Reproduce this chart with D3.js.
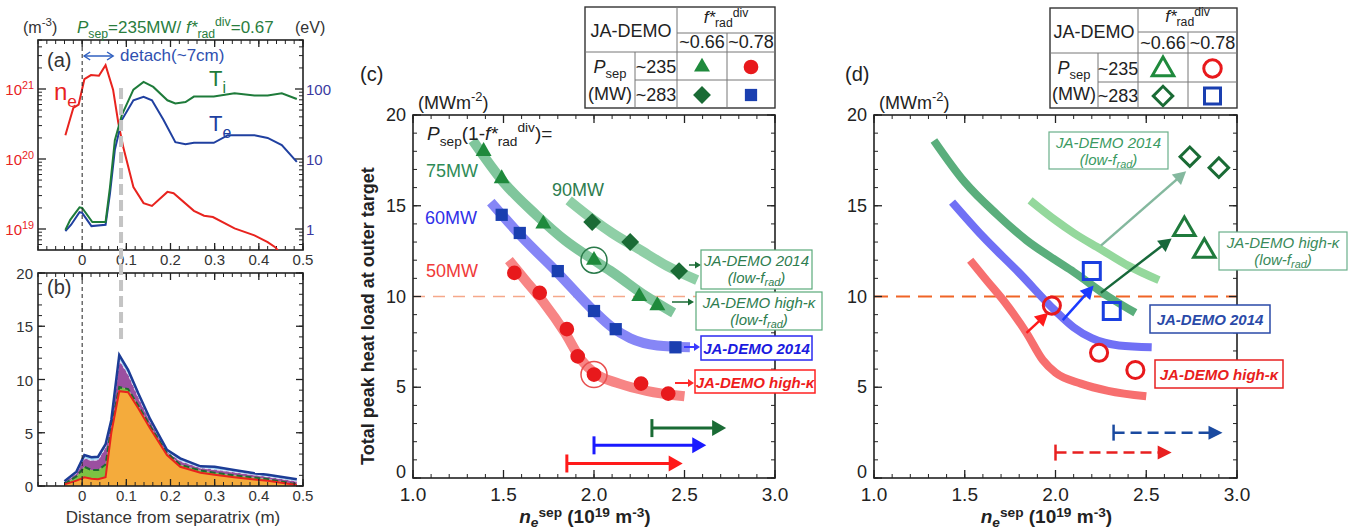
<!DOCTYPE html>
<html><head><meta charset="utf-8">
<script src="https://cdn.jsdelivr.net/npm/d3@7"></script>
<style>body{margin:0;background:#fff;overflow:hidden}</style>
</head><body>
<script>
// ================= DATA =================
// Panel (a): upstream/target profiles vs distance from separatrix (m)
const aNeX = [-0.038,-0.027,-0.02,-0.008,0.005,0.02,0.038,0.053,0.07,0.082,0.093,0.116,0.139,0.158,0.193,0.207,0.253,0.276,0.296,0.345,0.39,0.42,0.437,0.455];
const aNe  = [2.19e20,3.8e20,5.37e20,6.0e20,1.38e21,1.58e21,1.55e21,2.19e21,9.8e20,3.24e20,1.48e20,3.98e19,2.34e19,2.14e19,3.39e19,3.24e19,1.82e19,1.55e19,1.48e19,1.02e19,8.1e18,6.5e18,5.5e18,4.0e18];
const aTiX = [-0.038,-0.027,-0.006,0.0,0.023,0.053,0.063,0.074,0.09,0.116,0.139,0.161,0.193,0.211,0.234,0.253,0.298,0.345,0.39,0.42,0.452,0.486];
const aTi  = [0.97,1.35,2.04,2.0,1.26,1.26,3.98,18.6,42.7,97.7,126,107,69,62,65,78,78,87,81,81,87,72];
const aTeX = [-0.038,-0.025,-0.006,0.0,0.021,0.053,0.063,0.074,0.09,0.116,0.139,0.158,0.184,0.211,0.234,0.253,0.298,0.33,0.39,0.42,0.452,0.486];
const aTe  = [0.93,1.15,1.74,1.7,1.1,1.15,3.24,13.5,36.3,69,77.6,69,36.3,17.4,16.2,17,17,21.9,21.9,20,15.8,9.1];
const aNeTicks = [1e19,1e20,1e21];
const aTTicks = [1,10,100];
const distTicks = [0,0.1,0.2,0.3,0.4,0.5];
const detachRange = [0,0.07];
const detachFront = 0.088;

// Panel (b): stacked heat load components (MW m^-2)
const bX        = [-0.04,-0.013,0.005,0.021,0.036,0.053,0.066,0.084,0.104,0.127,0.154,0.192,0.222,0.268,0.3,0.344,0.39,0.42,0.486];
const bOrange   = [0.15,0.5,0.82,0.69,0.63,0.82,5.0,8.9,8.8,7.3,5.4,2.9,1.8,1.25,1.05,0.82,0.62,0.5,0.1];
const bGreen    = [0.05,0.4,0.98,0.81,0.87,1.2,0.5,0.4,0.3,0.25,0.22,0.2,0.2,0.2,0.2,0.18,0.17,0.15,0.05];
const bPurple   = [0.15,0.3,0.8,0.9,0.95,1.6,0.45,2.5,1.4,0.8,0.45,0.15,0.35,0.25,0.3,0.3,0.25,0.22,0.3];
const bLightBlue= [0.1,0.15,0.3,0.3,0.3,0.3,0.25,0.5,0.4,0.35,0.2,0.15,0.25,0.15,0.25,0.2,0.16,0.18,0.18];
const bYTicks = [0,5,10,15,20];

// Panel (c)/(d): peak heat load vs ne_sep
const band75 = [[1.33,18.6],[1.5,16.3],[1.68,14.5],[1.84,13.1],[2.0,12.0],[2.1,11.35],[2.29,10.0],[2.44,9.1]];
const band90 = [[1.86,15.3],[2.0,14.2],[2.1,13.5],[2.25,12.6],[2.4,11.7],[2.57,10.9]];
const band60 = [[1.43,15.2],[1.6,13.3],[1.8,11.3],[2.0,9.2],[2.1,8.3],[2.2,7.7],[2.35,7.3],[2.53,7.2]];
const band50 = [[1.53,12.0],[1.62,10.9],[1.72,9.7],[1.84,8.0],[1.93,6.5],[2.0,5.8],[2.14,5.2],[2.29,4.8],[2.5,4.5]];
const pts75 = [[1.39,18.0],[1.49,16.5],[1.72,14.0],[2.0,12.0],[2.25,10.0],[2.35,9.5]];
const pts90 = [[1.99,14.1],[2.2,13.0],[2.47,11.4]];
const pts60 = [[1.49,14.5],[1.59,13.5],[1.80,11.4],[2.0,9.2],[2.12,8.2],[2.45,7.2]];
const pts50 = [[1.56,11.3],[1.70,10.2],[1.85,8.2],[1.91,6.7],[2.0,5.7],[2.26,5.2],[2.41,4.65]];
const circledC = [[2.0,12.0],[2.0,5.7]];
const rangesC = [[2.32,2.73,2.75],[2.0,2.62,1.8],[1.85,2.49,0.8]];
const dDia  = [[2.74,17.7],[2.9,17.1]];
const dTri  = [[2.71,13.7],[2.82,12.5]];
const dSq   = [[2.2,11.4],[2.31,9.2]];
const dCirc = [[1.98,9.5],[2.24,6.9],[2.44,5.95]];
const dShift = [[2.25,12.8,2.72,16.9],[2.25,10.2,2.64,13.2],[2.04,8.7,2.21,10.6],[1.84,8.0,1.96,9.1]];
const rangesD = [[2.32,2.92,2.5],[2.0,2.64,1.4]];
const limitLoad = 10;
const neTicks = [1.0,1.5,2.0,2.5,3.0];
const qTicks = [0,5,10,15,20];

// ================= DRAW =================
const FONT='"Liberation Sans", Arial, Helvetica, sans-serif';
const svg=d3.select("body").append("svg").attr("width",1356).attr("height",531).style("font-family",FONT);
svg.append("rect").attr("width",1356).attr("height",531).attr("fill","#fff");
const defs=svg.append("defs");

function rich(parent,x,y,parts,o){
  o=Object.assign({size:16,fill:"#222",anchor:"start",weight:"normal",style:"normal",supShift:0.42,subShift:0.3},o||{});
  const t=parent.append("text").attr("x",x).attr("y",y).attr("font-size",o.size).attr("fill",o.fill)
    .attr("text-anchor",o.anchor).attr("font-weight",o.weight).attr("font-style",o.style);
  let off=0;
  parts.forEach(p=>{
    if(typeof p==="string")p={t:p};
    const k=p.k||"n";let target=0,fs=o.size;
    if(k==="sub"){target=o.size*o.subShift;fs=o.size*0.72;}
    if(k==="sup"){target=-o.size*o.supShift;fs=o.size*0.72;}
    const ts=t.append("tspan").attr("dy",(target-off).toFixed(2)).attr("font-size",fs).text(p.t);
    if(p.style)ts.attr("font-style",p.style);
    if(p.weight)ts.attr("font-weight",p.weight);
    off=target;
  });
  return t;
}
function lines(g,data,f,color,w){
  g.selectAll(null).data(data).join("line")
   .attr("x1",d=>f(d)[0]).attr("y1",d=>f(d)[1]).attr("x2",d=>f(d)[2]).attr("y2",d=>f(d)[3])
   .attr("stroke",color||"#222").attr("stroke-width",w||1);
}
function range(a,b,s){const r=[];for(let v=a;v<=b+1e-9;v+=s)r.push(+v.toFixed(6));return r;}
function arrow(g,x1,y1,x2,y2,o){
  const color=o.color,width=o.width||2,head=o.head||12,hw=o.hw||6;
  const dx=x2-x1,dy=y2-y1,L=Math.hypot(dx,dy),ux=dx/L,uy=dy/L;
  const bx=x2-ux*head,by=y2-uy*head;
  const ln=g.append("line").attr("x1",x1).attr("y1",y1).attr("x2",bx+ux).attr("y2",by+uy)
    .attr("stroke",color).attr("stroke-width",width);
  if(o.dash)ln.attr("stroke-dasharray",o.dash);
  g.append("path").attr("d",`M${x2},${y2}L${bx-uy*hw},${by+ux*hw}L${bx+uy*hw},${by-ux*hw}Z`).attr("fill",color);
}
function frame(g,sx,sy,xMaj,xMin,yMaj,yMin,L,l){
  const [x0,x1]=sx.range(),[y0,y1]=sy.range();
  g.append("rect").attr("x",x0).attr("y",y1).attr("width",x1-x0).attr("height",y0-y1)
   .attr("fill","none").attr("stroke","#222").attr("stroke-width",1.6);
  lines(g,xMaj,d=>[sx(d),y0,sx(d),y0-L],"#222",1.3);
  lines(g,xMaj,d=>[sx(d),y1,sx(d),y1+L],"#222",1.3);
  lines(g,xMin,d=>[sx(d),y0,sx(d),y0-l],"#222",1);
  lines(g,xMin,d=>[sx(d),y1,sx(d),y1+l],"#222",1);
  if(yMaj){
  lines(g,yMaj,d=>[x0,sy(d),x0+L,sy(d)],"#222",1.3);
  lines(g,yMaj,d=>[x1,sy(d),x1-L,sy(d)],"#222",1.3);
  lines(g,yMin,d=>[x0,sy(d),x0+l,sy(d)],"#222",1);
  lines(g,yMin,d=>[x1,sy(d),x1-l,sy(d)],"#222",1);}
}
function clip(id,x,y,w,h){defs.append("clipPath").attr("id",id).append("rect").attr("x",x).attr("y",y).attr("width",w).attr("height",h);return `url(#${id})`;}

// ---------- Panel (a) ----------
const gA=svg.append("g");
const ax=d3.scaleLinear().domain([-0.1,0.5]).range([38,303]);
const ayN=d3.scaleLog().domain([10**18.7,10**21.7]).range([250,40]);
const ayT=d3.scaleLog().domain([10**-0.3,10**2.7]).range([250,40]);
const distMin=range(-0.1,0.5,0.02);
frame(gA,ax,d3.scaleLinear().range([250,40]),distTicks,distMin,null,null,7,4);
const logMinor=[];for(let n=18;n<=21;n++)for(let k=2;k<=9;k++){const v=k*10**n;if(v>10**18.7&&v<10**21.7)logMinor.push(v);}
lines(gA,aNeTicks,d=>[38,ayN(d),46,ayN(d)],"#222",1.3);
lines(gA,logMinor,d=>[38,ayN(d),42,ayN(d)],"#222",1);
lines(gA,aTTicks,d=>[303,ayT(d),295,ayT(d)],"#222",1.3);
lines(gA,logMinor.map(v=>v/1e19),d=>[303,ayT(d),299,ayT(d)],"#222",1);
aNeTicks.forEach(v=>rich(gA,34,ayN(v)+6,["10",{t:String(Math.round(Math.log10(v))),k:"sup"}],{size:15,fill:"#e8231e",anchor:"end"}));
aTTicks.forEach(v=>gA.append("text").attr("x",306).attr("y",ayT(v)+6).attr("font-size",15).attr("fill","#3a3aa0").text(v));
distTicks.forEach(v=>gA.append("text").attr("x",ax(v)).attr("y",265).attr("font-size",15).attr("text-anchor","middle").attr("fill","#333").text(v===0?"0":v.toFixed(1)));
const cA=clip("clipA",38,40,265,210);
const lineA=(xs,sy)=>d3.line().x((d,i)=>ax(xs[i])).y(d=>sy(d));
gA.append("path").attr("clip-path",cA).attr("d",lineA(aNeX,ayN)(aNe)).attr("fill","none").attr("stroke","#e8231e").attr("stroke-width",2);
gA.append("path").attr("d",lineA(aTeX,ayT)(aTe)).attr("fill","none").attr("stroke","#2040a0").attr("stroke-width",2);
gA.append("path").attr("d",lineA(aTiX,ayT)(aTi)).attr("fill","none").attr("stroke","#1e7b3a").attr("stroke-width",2);
gA.append("line").attr("x1",ax(0)).attr("x2",ax(0)).attr("y1",40).attr("y2",250).attr("stroke","#222").attr("stroke-dasharray","4,3");
rich(gA,23,33,["(m",{t:"-3",k:"sup"},")"],{size:16,fill:"#333"});
rich(gA,295,33,["(eV)"],{size:16,fill:"#333"});
rich(gA,77,33,[{t:"P",style:"italic"},{t:"sep",k:"sub"},"=235MW/ ",{t:"f*",style:"italic"},{t:"rad",k:"sub"},{t:"div",k:"sup"},"=0.67"],{size:17,fill:"#2a7d3e"});
gA.append("text").attr("x",47).attr("y",67).attr("font-size",20).attr("fill","#333").text("(a)");
// detach double arrow
{const y=56,x1=ax(detachRange[0])+2,x2=ax(detachRange[1]);
 gA.append("line").attr("x1",x1).attr("x2",x2).attr("y1",y).attr("y2",y).attr("stroke","#3060c0").attr("stroke-width",1.5);
 gA.append("path").attr("d",`M${x1+6},${y-4}L${x1},${y}L${x1+6},${y+4}M${x2-6},${y-4}L${x2},${y}L${x2-6},${y+4}`).attr("fill","none").attr("stroke","#3060c0").attr("stroke-width",1.5);}
gA.append("text").attr("x",120).attr("y",61).attr("font-size",17).attr("fill","#3050b0").text("detach(~7cm)");
rich(gA,54,100,["n",{t:"e",k:"sub"}],{size:24,fill:"#e8231e"});
rich(gA,209,86,["T",{t:"i",k:"sub"}],{size:22,fill:"#1e7b3a"});
rich(gA,209,131,["T",{t:"e",k:"sub"}],{size:22,fill:"#2040a0"});

// ---------- Panel (b) ----------
const gB=svg.append("g");
const by=d3.scaleLinear().domain([0,20]).range([486,273]);
const bRows=bX.map((x,i)=>({x,orange:bOrange[i],green:bGreen[i],purple:bPurple[i],lb:bLightBlue[i]}));
const keys=["orange","green","purple","lb"];
const stack=d3.stack().keys(keys)(bRows);
const fills={orange:"#f4ab3c",green:"#7cc242",purple:"#9b4fa0",lb:"#9ed6f2"};
const area=d3.area().x(d=>ax(d.data.x)).y0(d=>by(d[0])).y1(d=>by(d[1]));
stack.forEach(s=>gB.append("path").attr("d",area(s)).attr("fill",fills[s.key]));
const topLine=d3.line().x(d=>ax(d.data.x)).y(d=>by(d[1]));
gB.append("path").attr("d",topLine(stack[2])).attr("fill","none").attr("stroke","#e8e0f4").attr("stroke-width",1.2).attr("stroke-dasharray","3,3");
gB.append("path").attr("d",topLine(stack[1])).attr("fill","none").attr("stroke","#1e6b30").attr("stroke-width",2).attr("stroke-dasharray","6,3");
gB.append("path").attr("d",topLine(stack[0])).attr("fill","none").attr("stroke","#e8231e").attr("stroke-width",2);
gB.append("path").attr("d",topLine(stack[3])).attr("fill","none").attr("stroke","#1c3c96").attr("stroke-width",2.5);
frame(gB,ax,by,distTicks,distMin,bYTicks,range(0,20,1),7,4);
gB.append("line").attr("x1",ax(0)).attr("x2",ax(0)).attr("y1",273).attr("y2",486).attr("stroke","#222").attr("stroke-dasharray","4,3");
bYTicks.forEach(v=>gB.append("text").attr("x",33).attr("y",by(v)+6).attr("font-size",15).attr("text-anchor","end").attr("fill","#333").text(v));
distTicks.forEach(v=>gB.append("text").attr("x",ax(v)).attr("y",501).attr("font-size",15).attr("text-anchor","middle").attr("fill","#333").text(v===0?"0":v.toFixed(1)));
gB.append("text").attr("x",173).attr("y",523).attr("font-size",17).attr("text-anchor","middle").attr("fill","#333").text("Distance from separatrix (m)");
gB.append("text").attr("x",47).attr("y",294).attr("font-size",20).attr("fill","#333").text("(b)");
// grey detachment-front line across (a) and (b)
svg.append("line").attr("x1",ax(detachFront)).attr("x2",ax(detachFront)).attr("y1",88).attr("y2",343).attr("stroke","#c4c4c4").attr("stroke-width",4).attr("stroke-dasharray","11,5");

// ---------- helpers for (c)/(d) ----------
const xMinorC=range(1,3,0.1), yMinorC=range(0,20,1);
function markerPath(kind,size){
  const t={tri:d3.symbolTriangle,circ:d3.symbolCircle,sq:d3.symbolSquare,dia:d3.symbolSquare}[kind];
  return d3.symbol().type(t).size(size)();
}
function markers(g,pts,sx,sy,kind,size,color,open){
  g.selectAll(null).data(pts).join("path").attr("d",markerPath(kind,size))
   .attr("transform",d=>`translate(${sx(d[0])},${sy(d[1])})${kind==="dia"?" rotate(45)":""}`)
   .attr("fill",open?"none":color).attr("stroke",open?color:"none").attr("stroke-width",open?3:0);
}
function axesCD(g,sx,sy){
  frame(g,sx,sy,neTicks,xMinorC,qTicks,yMinorC,8,4);
  neTicks.forEach(v=>g.append("text").attr("x",sx(v)).attr("y",sy(0)+23).attr("font-size",19).attr("text-anchor","middle").attr("fill","#222").text(v.toFixed(1)));
  qTicks.forEach(v=>g.append("text").attr("x",sx(1)-7).attr("y",sy(v)+(v===0?0:6)).attr("font-size",18).attr("text-anchor","end").attr("fill","#222").text(v));
  rich(g,(sx(2)+sx(1.9))/2,523,[{t:"n",style:"italic"},{t:"e",k:"sub",style:"italic"},{t:"sep",k:"sup"}," (10",{t:"19",k:"sup"}," m",{t:"-3",k:"sup"},")"],{size:19,weight:"bold",anchor:"middle",fill:"#222",supShift:0.3,subShift:0.22});
  rich(g,sx(1)+5,109,["(MWm",{t:"-2",k:"sup"},")"],{size:18,fill:"#222"});
}
function table(g,c,r,open){
  const [x0,xa,xb,xc,x1]=c,[y0,ya,yb,yc,y1]=r;
  g.append("rect").attr("x",x0).attr("y",y0).attr("width",x1-x0).attr("height",y1-y0).attr("fill","#fff").attr("stroke","#333").attr("stroke-width",1.4);
  lines(g,[[xb,ya,x1,ya],[x0,yb,x1,yb],[xa,yc,x1,yc],[xa,yb,xa,y1],[xb,y0,xb,y1],[xc,ya,xc,y1]],d=>d,"#777",1);
  const T=(x,y,s)=>g.append("text").attr("x",x).attr("y",y).attr("font-size",18).attr("text-anchor","middle").attr("fill","#222").text(s);
  T((x0+xb)/2,(y0+yb)/2+7,"JA-DEMO");
  rich(g,(xb+x1)/2,ya-10,[{t:"f*",style:"italic"},{t:"rad",k:"sub"},{t:"div",k:"sup"}],{size:17,anchor:"middle",subShift:0.25,supShift:0.35});
  T((xb+xc)/2,yb-4,"~0.66");T((xc+x1)/2,yb-4,"~0.78");
  rich(g,(x0+xa)/2,yb+21,[{t:"P",style:"italic"},{t:"sep",k:"sub"}],{size:18,anchor:"middle",subShift:0.25});
  T((x0+xa)/2,y1-8,"(MW)");
  T((xa+xb)/2,(yb+yc)/2+7,"~235");T((xa+xb)/2,(yc+y1)/2+7,"~283");
  const mx1=(xb+xc)/2,mx2=(xc+x1)/2,my1=(yb+yc)/2+1,my2=(yc+y1)/2+1;
  const id=d3.scaleIdentity();
  if(!open){
    markers(g,[[mx1,my1]],id,id,"tri",110,"#1f8a3c");
    markers(g,[[mx2,my1]],id,id,"circ",170,"#e8191c");
    markers(g,[[mx1,my2]],id,id,"dia",160,"#1a6b35");
    markers(g,[[mx2,my2]],id,id,"sq",150,"#1a3fb0");
  }else{
    markers(g,[[mx1,my1+1]],id,id,"tri",200,"#1f8a3c",true);
    markers(g,[[mx2,my1]],id,id,"circ",240,"#e8191c",true);
    markers(g,[[mx1,my2]],id,id,"dia",190,"#1a6b35",true);
    markers(g,[[mx2,my2]],id,id,"sq",256,"#1a3fb0",true);
  }
}
function labelBox(g,x,y,w,h,linesTxt,o){
  g.append("rect").attr("x",x).attr("y",y).attr("width",w).attr("height",h).attr("fill","#fff").attr("stroke",o.stroke).attr("stroke-width",o.sw||1.2);
  linesTxt.forEach((parts,i)=>rich(g,x+w/2,y+(linesTxt.length===1?h/2+6:16+i*17),parts,{size:15,style:"italic",weight:o.weight||"normal",fill:o.fill,anchor:"middle",subShift:0.2}));
}
const lowFrad=["(low-f",{t:"rad",k:"sub"},")"];
const curve=(sx,sy)=>d3.line().curve(d3.curveMonotoneX).x(d=>sx(d[0])).y(d=>sy(d[1]));

// ---------- Panel (c) ----------
const gC=svg.append("g");
const cx=d3.scaleLinear().domain([1,3]).range([413,775]);
const cy=d3.scaleLinear().domain([0,20]).range([478,115]);
gC.append("line").attr("x1",cx(1)).attr("x2",cx(3)).attr("y1",cy(limitLoad)).attr("y2",cy(limitLoad)).attr("stroke","#f5a88a").attr("stroke-width",1.5).attr("stroke-dasharray","12,8");
const lc=curve(cx,cy);
[[band90,"#8fcfa6"],[band75,"#80c69c"],[band60,"#8686f6"],[band50,"#f78585"]].forEach(([b,c])=>
  gC.append("path").attr("d",lc(b)).attr("fill","none").attr("stroke",c).attr("stroke-width",10).attr("stroke-linecap","butt"));
markers(gC,pts75,cx,cy,"tri",110,"#1f8a3c");
markers(gC,pts90,cx,cy,"dia",160,"#1a6b35");
markers(gC,pts60,cx,cy,"sq",150,"#1a3fb0");
markers(gC,pts50,cx,cy,"circ",170,"#e8191c");
gC.append("circle").attr("cx",cx(circledC[0][0])).attr("cy",cy(circledC[0][1])).attr("r",13).attr("fill","none").attr("stroke","#2a7a4a").attr("stroke-width",1.5);
gC.append("circle").attr("cx",cx(circledC[1][0])).attr("cy",cy(circledC[1][1])).attr("r",13).attr("fill","none").attr("stroke","#e85050").attr("stroke-width",1.5);
const rcCol=["#1a6b35","#1a1aff","#ff1a1a"];
rangesC.forEach((r,i)=>{const y=cy(r[2]);
  gC.append("line").attr("x1",cx(r[0])).attr("x2",cx(r[0])).attr("y1",y-9).attr("y2",y+9).attr("stroke",rcCol[i]).attr("stroke-width",3);
  arrow(gC,cx(r[0]),y,cx(r[1]),y,{color:rcCol[i],width:3,head:14,hw:8});});
axesCD(gC,cx,cy);
rich(gC,374,465,["Total peak heat load at outer target"],{size:18,weight:"bold",fill:"#222"}).attr("transform","rotate(-90,374,465)");
gC.append("text").attr("x",360).attr("y",81).attr("font-size",20).attr("fill","#222").text("(c)");
rich(gC,427,140,[{t:"P",style:"italic"},{t:"sep",k:"sub"},"(1-",{t:"f*",style:"italic"},{t:"rad",k:"sub"},{t:"div",k:"sup"},")="],{size:19,fill:"#222"});
gC.append("text").attr("x",426).attr("y",177).attr("font-size",18).attr("fill","#2e8b57").text("75MW");
gC.append("text").attr("x",425).attr("y",224).attr("font-size",18).attr("fill","#3030e8").text("60MW");
gC.append("text").attr("x",426).attr("y",277).attr("font-size",18).attr("fill","#f03a3a").text("50MW");
gC.append("text").attr("x",552).attr("y",196).attr("font-size",18).attr("fill","#2e7d4f").text("90MW");
// small arrows to labels
arrow(gC,689,265,701,265,{color:"#1a6b35",width:1.5,head:6,hw:3.5});
arrow(gC,672,302,694,302,{color:"#1a6b35",width:1.5,head:6,hw:3.5});
arrow(gC,684,347,700,347,{color:"#3a3aff",width:2,head:6,hw:4});
arrow(gC,675,383,694,383,{color:"#ff2a2a",width:2,head:6,hw:4});
labelBox(gC,701,250,111,39,[["JA-DEMO 2014"],lowFrad],{stroke:"#5aaa7a",fill:"#2e7d4f"});
labelBox(gC,696,292,126,38,[["JA-DEMO high-κ"],lowFrad],{stroke:"#5aaa7a",fill:"#2e7d4f"});
labelBox(gC,701,336,111,24,[["JA-DEMO 2014"]],{stroke:"#2a2af0",fill:"#1a1ae0",weight:"bold",sw:1.5});
labelBox(gC,695,370,120,23,[["JA-DEMO high-κ"]],{stroke:"#ff2020",fill:"#ee1c1c",weight:"bold",sw:1.5});
table(gC,[585,635,677,727,775],[7,33,52,80,108],false);

// ---------- Panel (d) ----------
const gD=svg.append("g");
const dx=d3.scaleLinear().domain([1,3]).range([874,1237]);
const dy=d3.scaleLinear().domain([0,20]).range([478,115]);
gD.append("line").attr("x1",dx(1)).attr("x2",dx(3)).attr("y1",dy(limitLoad)).attr("y2",dy(limitLoad)).attr("stroke","#f06426").attr("stroke-width",2).attr("stroke-dasharray","14,8");
const ld=curve(dx,dy);
[[band90,"#94d89c"],[band75,"#5aae7c"],[band60,"#7070f5"],[band50,"#f76f6f"]].forEach(([b,c])=>
  gD.append("path").attr("d",ld(b)).attr("fill","none").attr("stroke",c).attr("stroke-width",8));
const shCol=["#84b89e","#17683a","#1a3aff","#ff1a1a"];
dShift.forEach((a,i)=>arrow(gD,dx(a[0]),dy(a[1]),dx(a[2]),dy(a[3]),{color:shCol[i],width:2.5,head:13,hw:7}));
markers(gD,dDia,dx,dy,"dia",190,"#1a6b35",true);
markers(gD,dTri,dx,dy,"tri",200,"#1f7a3c",true);
markers(gD,dSq,dx,dy,"sq",289,"#1a3fe0",true);
markers(gD,dCirc,dx,dy,"circ",230,"#e8191c",true);
const rdCol=["#1a4aa0","#e82020"];
rangesD.forEach((r,i)=>{const y=dy(r[2]);
  gD.append("line").attr("x1",dx(r[0])).attr("x2",dx(r[0])).attr("y1",y-8).attr("y2",y+8).attr("stroke",rdCol[i]).attr("stroke-width",2.5);
  arrow(gD,dx(r[0]),y,dx(r[1]),y,{color:rdCol[i],width:2.5,head:14,hw:7,dash:"11,6"});});
axesCD(gD,dx,dy);
gD.append("text").attr("x",845).attr("y",81).attr("font-size",20).attr("fill","#222").text("(d)");
labelBox(gD,1049,132,119,37,[["JA-DEMO 2014"],lowFrad],{stroke:"#6ab08a",fill:"#3a9a62"});
labelBox(gD,1219,232,128,38,[["JA-DEMO high-κ"],lowFrad],{stroke:"#6ab08a",fill:"#3a8a5a"});
labelBox(gD,1150,305,120,28,[["JA-DEMO 2014"]],{stroke:"#2a4aa8",fill:"#2a4aa8",weight:"bold",sw:1.5});
labelBox(gD,1155,360,128,28,[["JA-DEMO high-κ"]],{stroke:"#e82020",fill:"#e82020",weight:"bold",sw:1.5});
table(gD,[1050,1098,1138,1188,1237],[8,32,53,82,108],true);
</script></body></html>
